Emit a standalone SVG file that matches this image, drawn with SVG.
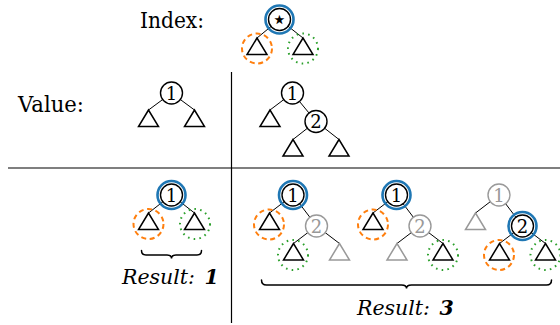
<svg xmlns="http://www.w3.org/2000/svg" width="560" height="325" viewBox="0 0 560 325">
<style>
.lbl{font-family:"DejaVu Serif",serif;font-size:23px;fill:#000}
.res{font-family:"DejaVu Serif",serif;font-size:20.5px;font-style:italic;fill:#000}
.num{font-family:"DejaVu Serif",serif;font-size:18px;text-anchor:middle;fill:#000}
.num.g{fill:#999}
.nd{fill:#fff;stroke:#000;stroke-width:1.4}
.nd.g{stroke:#999}
.tri{fill:#fff;stroke:#000;stroke-width:1.5;stroke-linejoin:miter}
.tri.g{stroke:#999}
.edge{stroke:#000;stroke-width:1}
.sel{fill:none;stroke:#1f77b4;stroke-width:2.6}
.lft{fill:none;stroke:#ff7f0e;stroke-width:2;stroke-dasharray:5 3.6}
.rgt{fill:none;stroke:#2ca02c;stroke-width:2;stroke-dasharray:1.6 4.2}
.sep{stroke:#000;stroke-width:1.2;fill:none}
.brace{fill:none;stroke:#000;stroke-width:1.5;stroke-linecap:round}
</style>

<g id="labels">
<text class="lbl" x="140" y="27.5" textLength="64" lengthAdjust="spacingAndGlyphs">Index:</text>
<text class="lbl" x="18" y="112" textLength="66" lengthAdjust="spacingAndGlyphs">Value:</text>
<text class="res" x="122" y="283.5">Result: <tspan dx="3" font-weight="bold">1</tspan></text>
<text class="res" x="357" y="315">Result: <tspan dx="3" font-weight="bold">3</tspan></text>
</g>

<g id="separators">
<line class="sep" x1="8" y1="168" x2="560" y2="168"/>
<line class="sep" x1="231.5" y1="72" x2="231.5" y2="323"/>
</g>

<g id="connectors">
<line class="edge" x1="279.5" y1="19.5" x2="257" y2="38"/>
<line class="edge" x1="279.5" y1="19.5" x2="303" y2="38"/>
<line class="edge" x1="171.5" y1="93" x2="148.5" y2="110"/>
<line class="edge" x1="171.5" y1="93" x2="194.5" y2="110"/>
<line class="edge" x1="292.5" y1="93" x2="270" y2="110"/>
<line class="edge" x1="292.5" y1="93" x2="316" y2="121.5"/>
<line class="edge" x1="316" y1="121.5" x2="293" y2="139.5"/>
<line class="edge" x1="316" y1="121.5" x2="339" y2="139.5"/>
<line class="edge" x1="171.5" y1="195" x2="148.5" y2="213"/>
<line class="edge" x1="171.5" y1="195" x2="194.5" y2="213"/>
<line class="edge" x1="293" y1="195" x2="269.5" y2="213"/>
<line class="edge" x1="293" y1="195" x2="316.5" y2="226"/>
<line class="edge" x1="316.5" y1="226" x2="293.5" y2="243.5"/>
<line class="edge" x1="316.5" y1="226" x2="339.5" y2="243.5"/>
<line class="edge" x1="396.5" y1="195" x2="373" y2="213"/>
<line class="edge" x1="396.5" y1="195" x2="420" y2="226"/>
<line class="edge" x1="420" y1="226" x2="397" y2="243.5"/>
<line class="edge" x1="420" y1="226" x2="443" y2="243.5"/>
<line class="edge" x1="499" y1="195" x2="475.5" y2="213"/>
<line class="edge" x1="499" y1="195" x2="522.5" y2="226"/>
<line class="edge" x1="522.5" y1="226" x2="499.5" y2="243.5"/>
<line class="edge" x1="522.5" y1="226" x2="545.5" y2="243.5"/>
</g>

<g id="index-tree">
<circle class="nd" cx="279.5" cy="19.5" r="11"/>
<text x="279.5" y="27.5" text-anchor="middle" font-family="DejaVu Sans, sans-serif" font-size="26">⋆</text>
<circle class="sel" cx="279.5" cy="19.5" r="14"/>
<polygon class="tri" points="257,38 247,54.5 267,54.5"/>
<polygon class="tri" points="303,38 293,54.5 313,54.5"/>
<circle class="lft" cx="257" cy="48.5" r="15"/>
<circle class="rgt" cx="303" cy="48.5" r="15"/>
</g>

<g id="value-tree-1">
<circle class="nd" cx="171.5" cy="93" r="11"/>
<text class="num" x="171.5" y="99.5">1</text>
<polygon class="tri" points="148.5,110 138.5,126.5 158.5,126.5"/>
<polygon class="tri" points="194.5,110 184.5,126.5 204.5,126.5"/>
</g>

<g id="value-tree-2">
<circle class="nd" cx="292.5" cy="93" r="11"/>
<text class="num" x="292.5" y="99.5">1</text>
<polygon class="tri" points="270,110 260,126.5 280,126.5"/>
<circle class="nd" cx="316" cy="121.5" r="11"/>
<text class="num" x="316" y="128">2</text>
<polygon class="tri" points="293,139.5 283,156 303,156"/>
<polygon class="tri" points="339,139.5 329,156 349,156"/>
</g>

<g id="result-left">
<circle class="nd" cx="171.5" cy="195" r="11"/>
<text class="num" x="171.5" y="201.5">1</text>
<circle class="sel" cx="171.5" cy="195" r="14"/>
<polygon class="tri" points="148.5,213 138.5,229.5 158.5,229.5"/>
<polygon class="tri" points="194.5,213 184.5,229.5 204.5,229.5"/>
<circle class="lft" cx="148.5" cy="224" r="15"/>
<circle class="rgt" cx="195" cy="224" r="15"/>
<path class="brace" d="M141.5,250.5 Q141.5,255 146,255 L167,255 Q171.5,255 171.5,258.5 Q171.5,255 176,255 L197,255 Q201.5,255 201.5,250.5"/>
</g>

<g id="result-a">
<circle class="nd" cx="293" cy="195" r="11"/>
<text class="num" x="293" y="201.5">1</text>
<circle class="sel" cx="293" cy="195" r="14"/>
<polygon class="tri" points="269.5,213 259.5,229.5 279.5,229.5"/>
<circle class="lft" cx="269" cy="224.5" r="15"/>
<circle class="nd g" cx="316.5" cy="226" r="11"/>
<text class="num g" x="316.5" y="232.5">2</text>
<polygon class="tri" points="293.5,243.5 283.5,260 303.5,260"/>
<circle class="rgt" cx="293" cy="255" r="15"/>
<polygon class="tri g" points="339.5,243.5 329.5,260 349.5,260"/>
</g>

<g id="result-b">
<circle class="nd" cx="396.5" cy="195" r="11"/>
<text class="num" x="396.5" y="201.5">1</text>
<circle class="sel" cx="396.5" cy="195" r="14"/>
<polygon class="tri" points="373,213 363,229.5 383,229.5"/>
<circle class="lft" cx="373" cy="224.5" r="15"/>
<circle class="nd g" cx="420" cy="226" r="11"/>
<text class="num g" x="420" y="232.5">2</text>
<polygon class="tri g" points="397,243.5 387,260 407,260"/>
<polygon class="tri" points="443,243.5 433,260 453,260"/>
<circle class="rgt" cx="443" cy="255" r="15"/>
</g>

<g id="result-c">
<circle class="nd g" cx="499" cy="195" r="11"/>
<text class="num g" x="499" y="201.5">1</text>
<polygon class="tri g" points="475.5,213 465.5,229.5 485.5,229.5"/>
<circle class="nd" cx="522.5" cy="226" r="11"/>
<text class="num" x="522.5" y="232.5">2</text>
<circle class="sel" cx="522.5" cy="226" r="14"/>
<polygon class="tri" points="499.5,243.5 489.5,260 509.5,260"/>
<circle class="lft" cx="499" cy="255" r="15"/>
<polygon class="tri" points="545.5,243.5 535.5,260 555.5,260"/>
<circle class="rgt" cx="545.5" cy="255" r="15"/>
</g>

<g id="result-brace">
<path class="brace" d="M261.5,280 Q261.5,285 266.5,285 L401.5,285 Q406.5,285 406.5,288.5 Q406.5,285 411.5,285 L546.5,285 Q551.5,285 551.5,280"/>
</g>
</svg>
